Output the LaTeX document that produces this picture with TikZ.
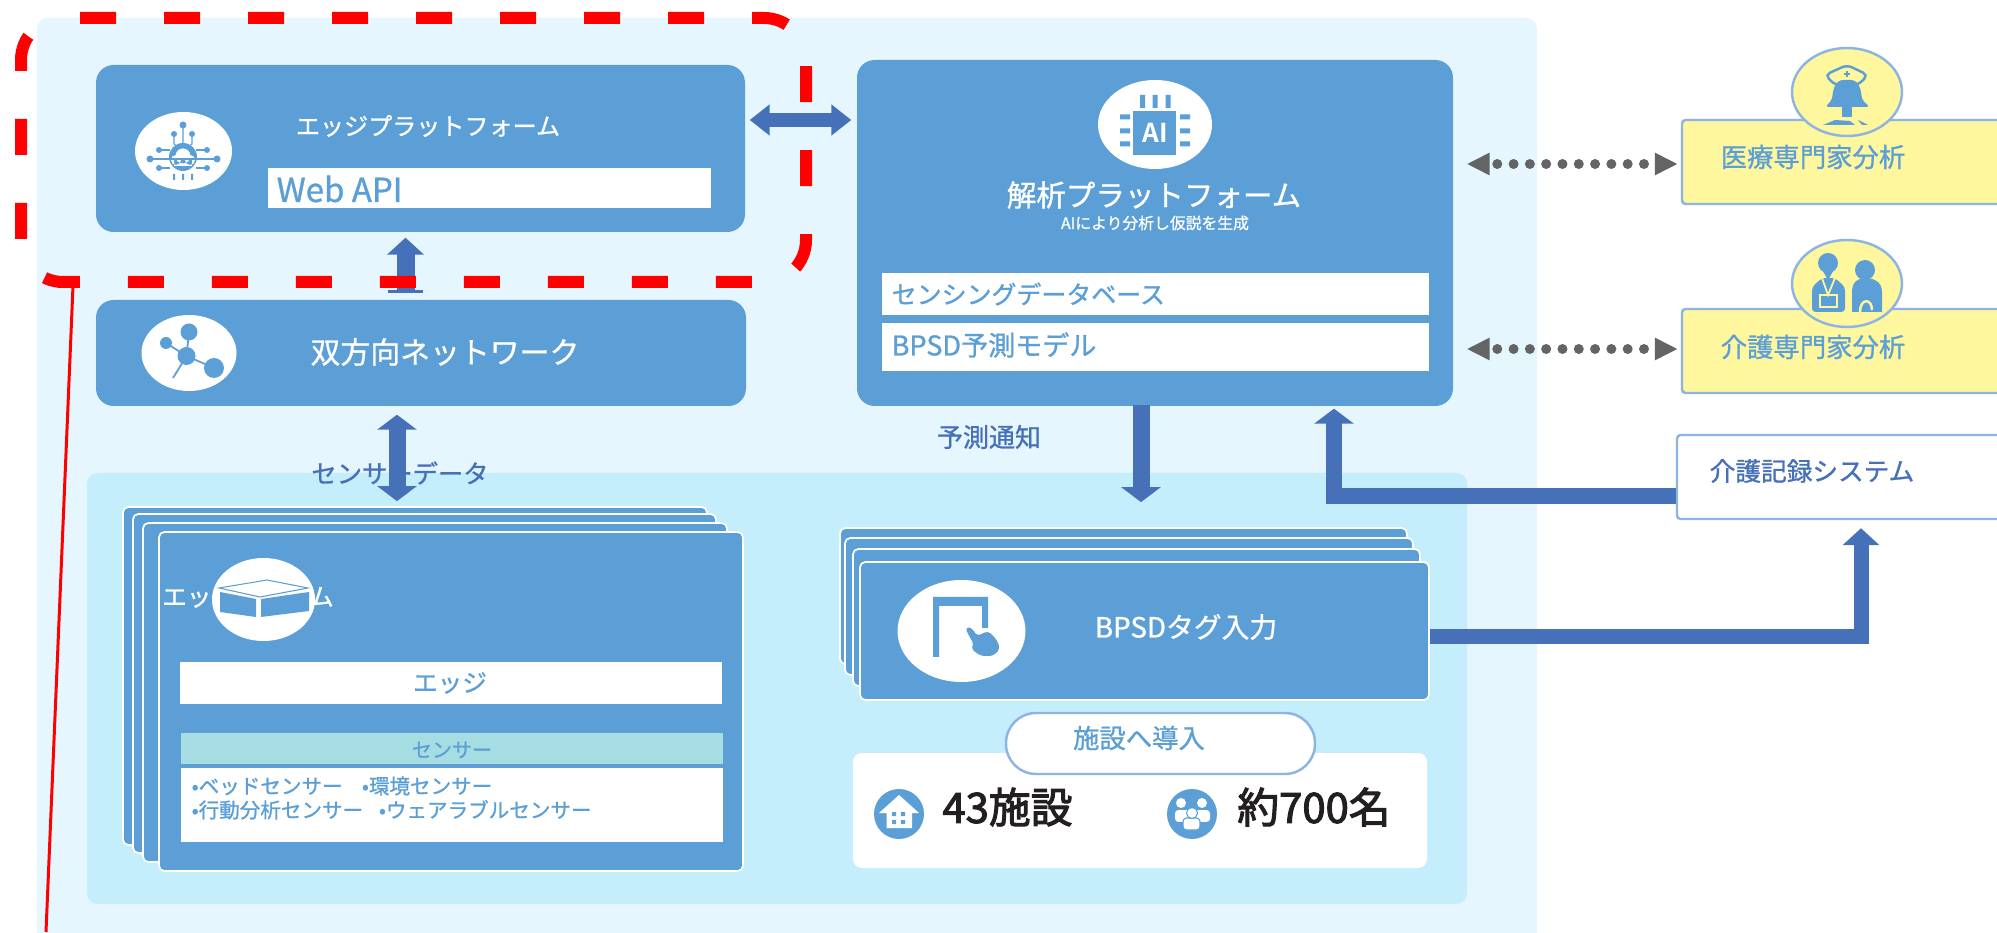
\documentclass[tikz,border=0pt]{standalone}
\usepackage{fontspec}
\setmainfont{Noto Sans CJK JP}[FakeBold=1]
\newfontfamily\countfont{Noto Sans CJK JP}[FakeBold=2.5]
\newfontfamily\markfont{Noto Sans CJK JP Bold}
\definecolor{boxblue}{RGB}{91, 159, 214}
\definecolor{arrowblue}{RGB}{70, 112, 184}
\definecolor{palebg}{RGB}{230, 246, 254}
\definecolor{panelcyan}{RGB}{196, 238, 252}
\definecolor{noteyellow}{RGB}{255, 247, 158}
\definecolor{edgeline}{RGB}{141, 180, 226}
\definecolor{dotgray}{RGB}{99, 100, 102}
\definecolor{bandteal}{RGB}{166, 221, 227}
\definecolor{inkdark}{RGB}{35, 31, 32}
\usetikzlibrary{shapes.geometric, arrows.meta, calc}
\newcommand{\fs}[1]{\fontsize{#1}{#1}\selectfont}
\tikzset{
  blockbox/.style={rectangle, fill=boxblue, inner sep=0pt, rounded corners=5pt},
  cardbox/.style={blockbox, draw=white, line width=0.5pt, rounded corners=1.5pt},
  whitebar/.style={rectangle, fill=white, inner sep=0pt},
  notebox/.style={rectangle, draw=edgeline, line width=0.7pt, fill=noteyellow, inner sep=0pt, rounded corners=1pt},
  icondisc/.style={ellipse, fill=white, inner sep=0pt},
  notedisc/.style={ellipse, fill=noteyellow, draw=edgeline, line width=0.7pt, inner sep=0pt},
  whitelabel/.style={text=white, inner sep=0pt},
  bluelabel/.style={text=boxblue, inner sep=0pt},
  darklabel/.style={text=arrowblue, inner sep=0pt},
  bigcount/.style={text=inkdark, inner sep=0pt, font=\countfont\fs{11.9}},
  blockarrow/.style={draw=arrowblue, line width=0.17cm, >={Triangle[length=0.15cm, width=0.39cm]}},
  dotarrow/.style={draw=dotgray, line width=0.10cm, line cap=round, dash pattern=on 0pt off 0.163cm, dash phase=0.073cm, >={Triangle[length=0.23cm, width=0.21cm]}}
}
\begin{document}
\begin{tikzpicture}
  \clip (0, 0) rectangle (19.97, 9.32);
  \fill[white] (0, 0) rectangle (19.97, 9.32);

  % Backgrounds
  \node[rectangle, fill=palebg, inner sep=0pt, rounded corners=3pt, minimum width=15cm, minimum height=9.34cm] (outer) at (7.87, 4.47) {};
  \node[rectangle, fill=panelcyan, inner sep=0pt, rounded corners=3pt, minimum width=13.8cm, minimum height=4.31cm] (panel) at (7.77, 2.435) {};

  % Edge platform
  \node[blockbox, minimum width=6.49cm, minimum height=1.67cm] (edgebox) at (4.205, 7.835) {};
  \node[whitelabel, font=\fs{6.85}] (edgetitle) at (4.28, 8.06) {エッジプラットフォーム};
  \node[whitebar, minimum width=4.43cm, minimum height=0.4cm] (webapi) at (4.895, 7.44) {};
  \node[bluelabel, font=\fs{9.4}, anchor=west] (webtext) at (2.76, 7.43) {Web API};
  \node[icondisc, minimum width=0.97cm, minimum height=0.78cm] (edgeicon) at (1.835, 7.81) {};
  \fill[boxblue] (1.83, 7.75) circle (0.14);
  \fill[white] (1.76, 7.72) circle (0.05) (1.83, 7.76) circle (0.075) (1.90, 7.72) circle (0.05) (1.74, 7.66) rectangle (1.92, 7.72);
  \draw[boxblue, line width=0.3pt] (1.83, 8.07) -- (1.83, 7.89) (1.74, 7.98) -- (1.74, 7.88) -- (1.78, 7.85) (1.92, 7.98) -- (1.92, 7.88) -- (1.88, 7.85);
  \draw[boxblue, line width=0.3pt] (1.50, 7.73) -- (2.17, 7.73) (1.59, 7.82) -- (1.70, 7.82) (2.07, 7.82) -- (1.96, 7.82) (1.59, 7.64) -- (1.70, 7.64) (2.07, 7.64) -- (1.96, 7.64);
  \fill[boxblue] (1.83, 8.07) circle (0.035) (1.74, 7.98) circle (0.03) (1.92, 7.98) circle (0.03) (1.50, 7.73) circle (0.035) (2.17, 7.73) circle (0.035) (1.59, 7.82) circle (0.03) (2.07, 7.82) circle (0.03) (1.59, 7.64) circle (0.03) (2.07, 7.64) circle (0.03);
  \fill[boxblue] (1.73, 7.52) rectangle (1.75, 7.58) (1.82, 7.52) rectangle (1.84, 7.58) (1.91, 7.52) rectangle (1.93, 7.58);

  % Network
  \node[blockbox, minimum width=6.5cm, minimum height=1.06cm] (network) at (4.21, 5.79) {};
  \node[whitelabel, font=\fs{8.5}] (nettext) at (4.45, 5.80) {双方向ネットワーク};
  \node[icondisc, minimum width=0.95cm, minimum height=0.76cm] (neticon) at (1.89, 5.79) {};
  \draw[boxblue, line width=0.5pt] (1.89, 6.00) -- (1.865, 5.76) -- (2.14, 5.64) (1.66, 5.89) -- (1.865, 5.76) -- (1.73, 5.54);
  \fill[boxblue] (1.89, 6.00) circle (0.085) (1.865, 5.76) circle (0.09) (2.14, 5.64) circle (0.10) (1.66, 5.89) circle (0.06);
  \draw[blockarrow, {Bar[width=0.35cm, line width=0.03cm]}->, line width=0.18cm, >={Triangle[length=0.17cm, width=0.36cm]}, shorten <=0.06cm, shorten >=0.05cm] ([xshift=-0.155cm]network.north) -- ([xshift=-0.155cm]network.north |- edgebox.south);

  % Analysis platform
  \node[blockbox, minimum width=5.96cm, minimum height=3.46cm] (analysis) at (11.55, 6.99) {};
  \node[icondisc, minimum width=1.14cm, minimum height=0.89cm] (aiicon) at (11.55, 8.075) {};
  \fill[boxblue] (11.33, 8.21) rectangle (11.76, 7.77);
  \fill[boxblue] (11.40, 8.37) rectangle (11.45, 8.24) (11.525, 8.37) rectangle (11.575, 8.24) (11.655, 8.37) rectangle (11.705, 8.24);
  \fill[boxblue] (11.20, 8.175) rectangle (11.30, 8.125) (11.20, 8.035) rectangle (11.30, 7.985) (11.20, 7.905) rectangle (11.30, 7.855);
  \fill[boxblue] (11.80, 8.175) rectangle (11.90, 8.125) (11.80, 8.035) rectangle (11.90, 7.985) (11.80, 7.905) rectangle (11.90, 7.855);
  \node[whitelabel, font=\markfont\fs{7.4}] (aimark) at (11.55, 7.99) {AI};
  \node[whitelabel, font=\fs{8.4}] (analysistitle) at (11.54, 7.37) {解析プラットフォーム};
  \node[whitelabel, font=\fs{4.5}] (analysissub) at (11.55, 7.09) {AIにより分析し仮説を生成};
  \node[whitebar, minimum width=5.47cm, minimum height=0.42cm] (dbbar) at (11.555, 6.38) {};
  \node[bluelabel, font=\fs{7.1}, anchor=west] (dbtext) at (8.91, 6.38) {センシングデータベース};
  \node[whitebar, minimum width=5.47cm, minimum height=0.48cm] (modelbar) at (11.555, 5.85) {};
  \node[bluelabel, font=\fs{7.7}, anchor=west] (modeltext) at (8.91, 5.87) {BPSD予測モデル};
  \node[darklabel, font=\fs{7.4}] (notice) at (9.89, 4.95) {予測通知};

  \draw[blockarrow, <->, line width=0.14cm, >={Triangle[length=0.2cm, width=0.3cm]}, shorten <=0.04cm, shorten >=0.05cm] ([yshift=0.285cm]edgebox.east) -- ([yshift=0.285cm]edgebox.east -| analysis.west);

  % Experts and records
  \node[notebox, minimum width=4.18cm, minimum height=0.84cm] (medbox) at (18.91, 7.70) {};
  \node[bluelabel, font=\fs{7.5}] (medtext) at (18.13, 7.75) {医療専門家分析};
  \node[notedisc, minimum width=1.10cm, minimum height=0.88cm] (meddisc) at (18.47, 8.40) {};
  \draw[boxblue, line width=0.7pt, rounded corners=1.5pt] (18.25, 8.57) -- (18.47, 8.67) -- (18.68, 8.57) -- (18.58, 8.47) -- (18.35, 8.47) -- cycle;
  \draw[boxblue, line width=0.5pt] (18.47, 8.55) -- (18.47, 8.61) (18.44, 8.58) -- (18.50, 8.58);
  \fill[boxblue, rounded corners=1pt] (18.25, 8.25) -- (18.32, 8.32) .. controls (18.33, 8.42) and (18.35, 8.52) .. (18.47, 8.52) .. controls (18.59, 8.52) and (18.61, 8.42) .. (18.62, 8.32) -- (18.70, 8.25) -- cycle;
  \fill[boxblue] (18.42, 8.26) rectangle (18.52, 8.15);
  \fill[boxblue] (18.23, 8.07) -- (18.35, 8.12) -- (18.50, 8.11) -- (18.55, 8.07) -- cycle (18.58, 8.12) -- (18.68, 8.07) -- (18.62, 8.07) -- cycle;

  \node[notebox, minimum width=4.18cm, minimum height=0.84cm] (carebox) at (18.91, 5.81) {};
  \node[bluelabel, font=\fs{7.5}] (caretext) at (18.13, 5.85) {介護専門家分析};
  \node[notedisc, minimum width=1.10cm, minimum height=0.87cm] (caredisc) at (18.47, 6.485) {};
  \fill[boxblue] (18.28, 6.69) circle (0.10);
  \fill[boxblue] (18.20, 6.66) -- (18.36, 6.66) -- (18.28, 6.52) -- cycle;
  \fill[boxblue, rounded corners=1pt] (18.12, 6.20) -- (18.12, 6.45) -- (18.22, 6.54) -- (18.35, 6.54) -- (18.45, 6.45) -- (18.45, 6.20) -- cycle;
  \draw[noteyellow, line width=0.5pt] (18.22, 6.54) -- (18.28, 6.37) -- (18.35, 6.54);
  \draw[noteyellow, line width=0.7pt] (18.20, 6.37) rectangle (18.37, 6.25);
  \fill[boxblue] (18.65, 6.62) circle (0.10);
  \fill[boxblue] (18.52, 6.20) -- (18.52, 6.40) .. controls (18.52, 6.50) and (18.58, 6.54) .. (18.65, 6.54) .. controls (18.74, 6.54) and (18.82, 6.50) .. (18.82, 6.40) -- (18.82, 6.20) -- cycle;
  \draw[noteyellow, line width=0.7pt] (18.60, 6.20) .. controls (18.60, 6.34) and (18.72, 6.34) .. (18.72, 6.22);

  \draw[dotarrow, <->, shorten <=0.13cm, shorten >=0.03cm] ([yshift=-0.02cm]medbox.west -| analysis.east) -- ([yshift=-0.02cm]medbox.west);
  \draw[dotarrow, <->, shorten <=0.13cm, shorten >=0.03cm] ([yshift=0.02cm]carebox.west -| analysis.east) -- ([yshift=0.02cm]carebox.west);

  \node[rectangle, draw=edgeline, line width=0.7pt, fill=white, inner sep=0pt, rounded corners=1pt, minimum width=4.23cm, minimum height=0.84cm] (record) at (18.885, 4.55) {};
  \node[darklabel, font=\fs{7.3}] (recordtext) at (18.12, 4.61) {介護記録システム};

  % Edge cards
  \node[cardbox, minimum width=5.84cm, minimum height=3.38cm] (edgecarda) at (4.15, 2.56) {};
  \node[cardbox, minimum width=5.83cm, minimum height=3.39cm] (edgecardb) at (4.245, 2.485) {};
  \node[cardbox, minimum width=5.84cm, minimum height=3.39cm] (edgecardc) at (4.35, 2.395) {};
  \node[cardbox, minimum width=5.84cm, minimum height=3.39cm] (edgecardd) at (4.51, 2.305) {};
  \node[whitelabel, font=\fs{7}] (edgesys) at (2.48, 3.35) {エッジシステム};
  \node[icondisc, minimum width=1.03cm, minimum height=0.83cm] (boxicon) at (2.635, 3.325) {};
  \draw[boxblue, line width=0.3pt] (2.19, 3.44) -- (2.67, 3.52) -- (3.08, 3.44) -- (2.60, 3.35) -- cycle;
  \fill[boxblue] (2.20, 3.40) -- (2.56, 3.33) -- (2.56, 3.15) -- (2.20, 3.20) -- cycle;
  \fill[boxblue] (2.61, 3.33) -- (3.09, 3.40) -- (3.09, 3.21) -- (2.61, 3.15) -- cycle;
  \node[whitebar, minimum width=5.42cm, minimum height=0.42cm] (edgebar) at (4.51, 2.49) {};
  \node[bluelabel, font=\fs{7}] (edgebartext) at (4.50, 2.49) {エッジ};
  \node[rectangle, fill=bandteal, inner sep=0pt, minimum width=5.42cm, minimum height=0.31cm] (sensorband) at (4.52, 1.835) {};
  \node[bluelabel, font=\fs{5.7}] (sensorbandtext) at (4.52, 1.82) {センサー};
  \node[whitebar, minimum width=5.42cm, minimum height=0.74cm] (sensorlist) at (4.52, 1.27) {};
  \node[bluelabel, font=\fontsize{5.85}{6.83}\selectfont, align=left, anchor=west] (sensortext) at (1.91, 1.34) {•ベッドセンサー\hspace{5.5pt}•環境センサー\\•行動分析センサー\hspace{4.5pt}•ウェアラブルセンサー};

  \node[darklabel, font=\fs{7.2}] (sensordata) at (4.00, 4.59) {センサーデータ};
  \draw[blockarrow, <->, shorten <=0.08cm, shorten >=0.05cm] ([xshift=-0.24cm]network.south) -- ([xshift=-0.24cm]network.south |- edgecarda.north);

  % Tag input cards
  \node[cardbox, minimum width=5.67cm, minimum height=1.36cm] (tagcarda) at (11.235, 3.36) {};
  \node[cardbox, minimum width=5.68cm, minimum height=1.37cm] (tagcardb) at (11.29, 3.255) {};
  \node[cardbox, minimum width=5.67cm, minimum height=1.37cm] (tagcardc) at (11.365, 3.145) {};
  \node[cardbox, minimum width=5.69cm, minimum height=1.38cm] (tagcardd) at (11.445, 3.01) {};
  \node[whitelabel, font=\fs{7.9}] (tagtext) at (11.86, 3.05) {BPSDタグ入力};
  \node[icondisc, minimum width=1.28cm, minimum height=1.02cm] (tagicon) at (9.615, 3.01) {};
  \fill[boxblue] (9.33, 2.75) -- (9.33, 3.35) -- (9.88, 3.35) -- (9.88, 3.04) -- (9.82, 3.04) -- (9.82, 3.26) -- (9.39, 3.26) -- (9.39, 2.75) -- cycle;
  \fill[boxblue, rounded corners=1pt] (9.65, 3.04) -- (9.71, 3.05) -- (9.77, 2.96) -- (9.88, 3.01) -- (9.97, 2.92) -- (10.00, 2.83) -- (9.93, 2.76) -- (9.81, 2.76) -- (9.71, 2.83) -- (9.74, 2.87) -- cycle;

  % Facilities
  \node[rectangle, fill=white, inner sep=0pt, rounded corners=2.5pt, minimum width=5.74cm, minimum height=1.15cm] (factable) at (11.40, 1.215) {};
  \node[rectangle, draw=edgeline, line width=0.7pt, fill=white, inner sep=0pt, rounded corners=0.3cm, minimum width=3.09cm, minimum height=0.61cm] (facpill) at (11.605, 1.885) {};
  \node[bluelabel, font=\fs{7.5}] (factext) at (11.39, 1.94) {施設へ導入};
  \node[ellipse, fill=boxblue, inner sep=0pt, minimum width=0.5cm, minimum height=0.5cm] (houseicon) at (8.99, 1.18) {};
  \fill[white] (8.99, 1.37) -- (9.19, 1.19) -- (9.12, 1.19) -- (9.12, 1.04) -- (8.865, 1.04) -- (8.865, 1.19) -- (8.79, 1.19) -- cycle;
  \fill[boxblue] (8.92, 1.16) rectangle (8.96, 1.20) (9.01, 1.16) rectangle (9.05, 1.20) (8.92, 1.08) rectangle (8.96, 1.12) (9.01, 1.08) rectangle (9.05, 1.12);
  \node[bigcount] (faccount) at (10.075, 1.25) {43施設};
  \node[ellipse, fill=boxblue, inner sep=0pt, minimum width=0.5cm, minimum height=0.5cm] (peopleicon) at (11.92, 1.18) {};
  \fill[white] (11.81, 1.29) circle (0.05) (12.02, 1.29) circle (0.05);
  \fill[white, rounded corners=1pt] (11.75, 1.10) rectangle (11.90, 1.22) (11.95, 1.10) rectangle (12.10, 1.22);
  \filldraw[fill=white, draw=boxblue, line width=0.3pt, rounded corners=1pt] (11.83, 1.02) rectangle (12.00, 1.14);
  \filldraw[fill=white, draw=boxblue, line width=0.3pt] (11.92, 1.19) circle (0.055);
  \node[bigcount] (peoplecount) at (13.14, 1.25) {約700名};

  % Block arrows
  \draw[blockarrow, ->, shorten <=-0.02cm, shorten >=0.25cm] ([xshift=-0.14cm]analysis.south) -- ([xshift=-0.14cm]analysis.south |- tagcarda.north);
  \draw[blockarrow, ->, line width=0.16cm, shorten >=0.02cm] ([yshift=-0.19cm]record.west) -| ([xshift=1.79cm]analysis.south);
  \draw[blockarrow, ->, line width=0.15cm, >={Triangle[length=0.17cm, width=0.36cm]}, shorten >=0.08cm] ([yshift=-0.06cm]tagcardd.east) -| ([xshift=-0.275cm]record.south);

  % Red outline and leader
  \draw[red, line width=0.12cm, dash pattern=on 0.36cm off 0.48cm, rounded corners=0.42cm] (0.80, 9.14) -- (8.06, 9.14) -- (8.06, 6.50) -- (0.21, 6.50) -- (0.21, 9.14) -- (0.68, 9.14);
  \coordinate (leadtop) at (0.73, 6.46);
  \coordinate (leadend) at (0.46, 0);
  \draw[red, line width=0.03cm] (leadtop) -- (leadend);
\end{tikzpicture}
\end{document}
